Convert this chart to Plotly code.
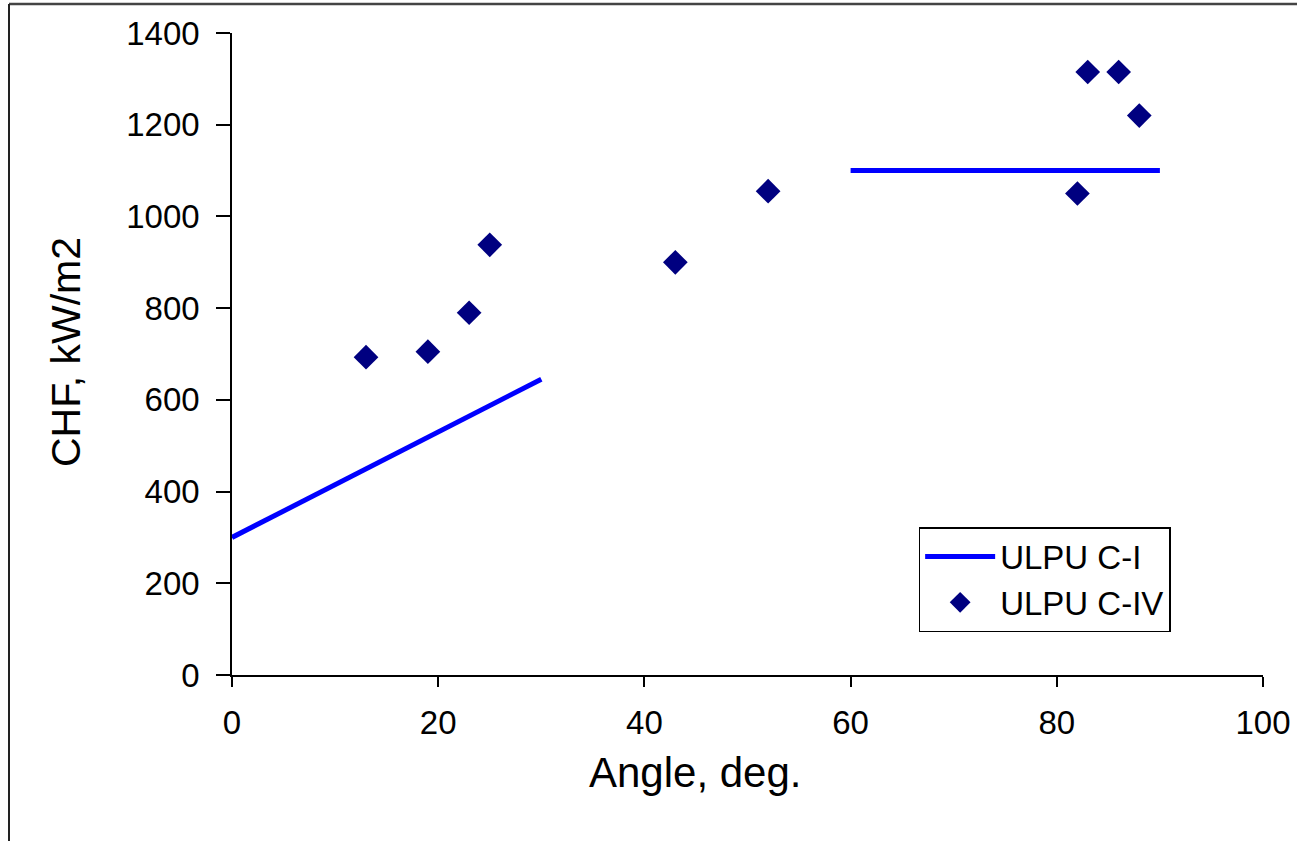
import plotly.graph_objects as go

# Data
line_ci_x1 = [0, 30]
line_ci_y1 = [300, 645]
line_ci_x2 = [60, 90]
line_ci_y2 = [1100, 1100]

civ_angle = [13, 19, 23, 25, 43, 52, 82, 83, 86, 88]
civ_chf = [693, 705, 790, 938, 900, 1055, 1050, 1315, 1315, 1220]

x_ticks = [0, 20, 40, 60, 80, 100]
y_ticks = [0, 200, 400, 600, 800, 1000, 1200, 1400]

FONT = "Liberation Sans, Arial, sans-serif"

fig = go.Figure()
fig.add_trace(go.Scatter(x=line_ci_x1, y=line_ci_y1, mode="lines", name="ULPU C-I",
                         line=dict(color="#0000FF", width=5), legendgroup="ci"))
fig.add_trace(go.Scatter(x=line_ci_x2, y=line_ci_y2, mode="lines", name="ULPU C-I",
                         line=dict(color="#0000FF", width=5), legendgroup="ci", showlegend=False))
fig.add_trace(go.Scatter(x=civ_angle, y=civ_chf, mode="markers", name="ULPU C-IV",
                         marker=dict(symbol="diamond", size=19, color="#000080")))

axis_common = dict(showgrid=False, zeroline=False, showline=True, linecolor="black", linewidth=1.5,
                   ticks="outside", tickcolor="black", tickwidth=1.5, automargin=False,
                   tickfont=dict(family=FONT, size=33, color="black"))

fig.update_xaxes(range=[0, 100], tickvals=x_ticks, ticklen=10, ticklabelstandoff=8, **axis_common)
fig.update_yaxes(range=[0, 1400], tickvals=y_ticks, ticklen=14, ticklabelstandoff=10, **axis_common)

fig.update_layout(
    width=1297, height=841,
    margin=dict(l=232, r=34, t=33, b=166, autoexpand=False),
    plot_bgcolor="white", paper_bgcolor="white",
    showlegend=True,
    legend=dict(x=0.666, y=0.2305, xanchor="left", yanchor="top",
                bordercolor="black", borderwidth=1.5, bgcolor="white",
                font=dict(family=FONT, size=33, color="black"),
                itemwidth=70, tracegroupgap=0),
    annotations=[
        dict(text="Angle, deg.", x=(695 - 232) / 1031, y=(675 - 773) / 642, xref="paper", yref="paper",
             showarrow=False, font=dict(family=FONT, size=42, color="black"), xanchor="center", yanchor="middle"),
        dict(text="CHF, kW/m2", x=(66 - 232) / 1031, y=(675 - 352) / 642, xref="paper", yref="paper",
             showarrow=False, textangle=-90, font=dict(family=FONT, size=41, color="black"),
             xanchor="center", yanchor="middle"),
    ],
    shapes=[
        dict(type="line", xref="paper", yref="paper", x0=(9 - 232) / 1031, x1=(1300 - 232) / 1031,
             y0=(675 - 4) / 642, y1=(675 - 4) / 642, line=dict(color="#444444", width=2.5)),
        dict(type="line", xref="paper", yref="paper", x0=(9 - 232) / 1031, x1=(9 - 232) / 1031,
             y0=(675 - 4) / 642, y1=(675 - 845) / 642, line=dict(color="#222222", width=2)),
    ],
)

fig.write_html("out.html", config={"displayModeBar": False},
               post_script="document.body.style.margin='0';")
